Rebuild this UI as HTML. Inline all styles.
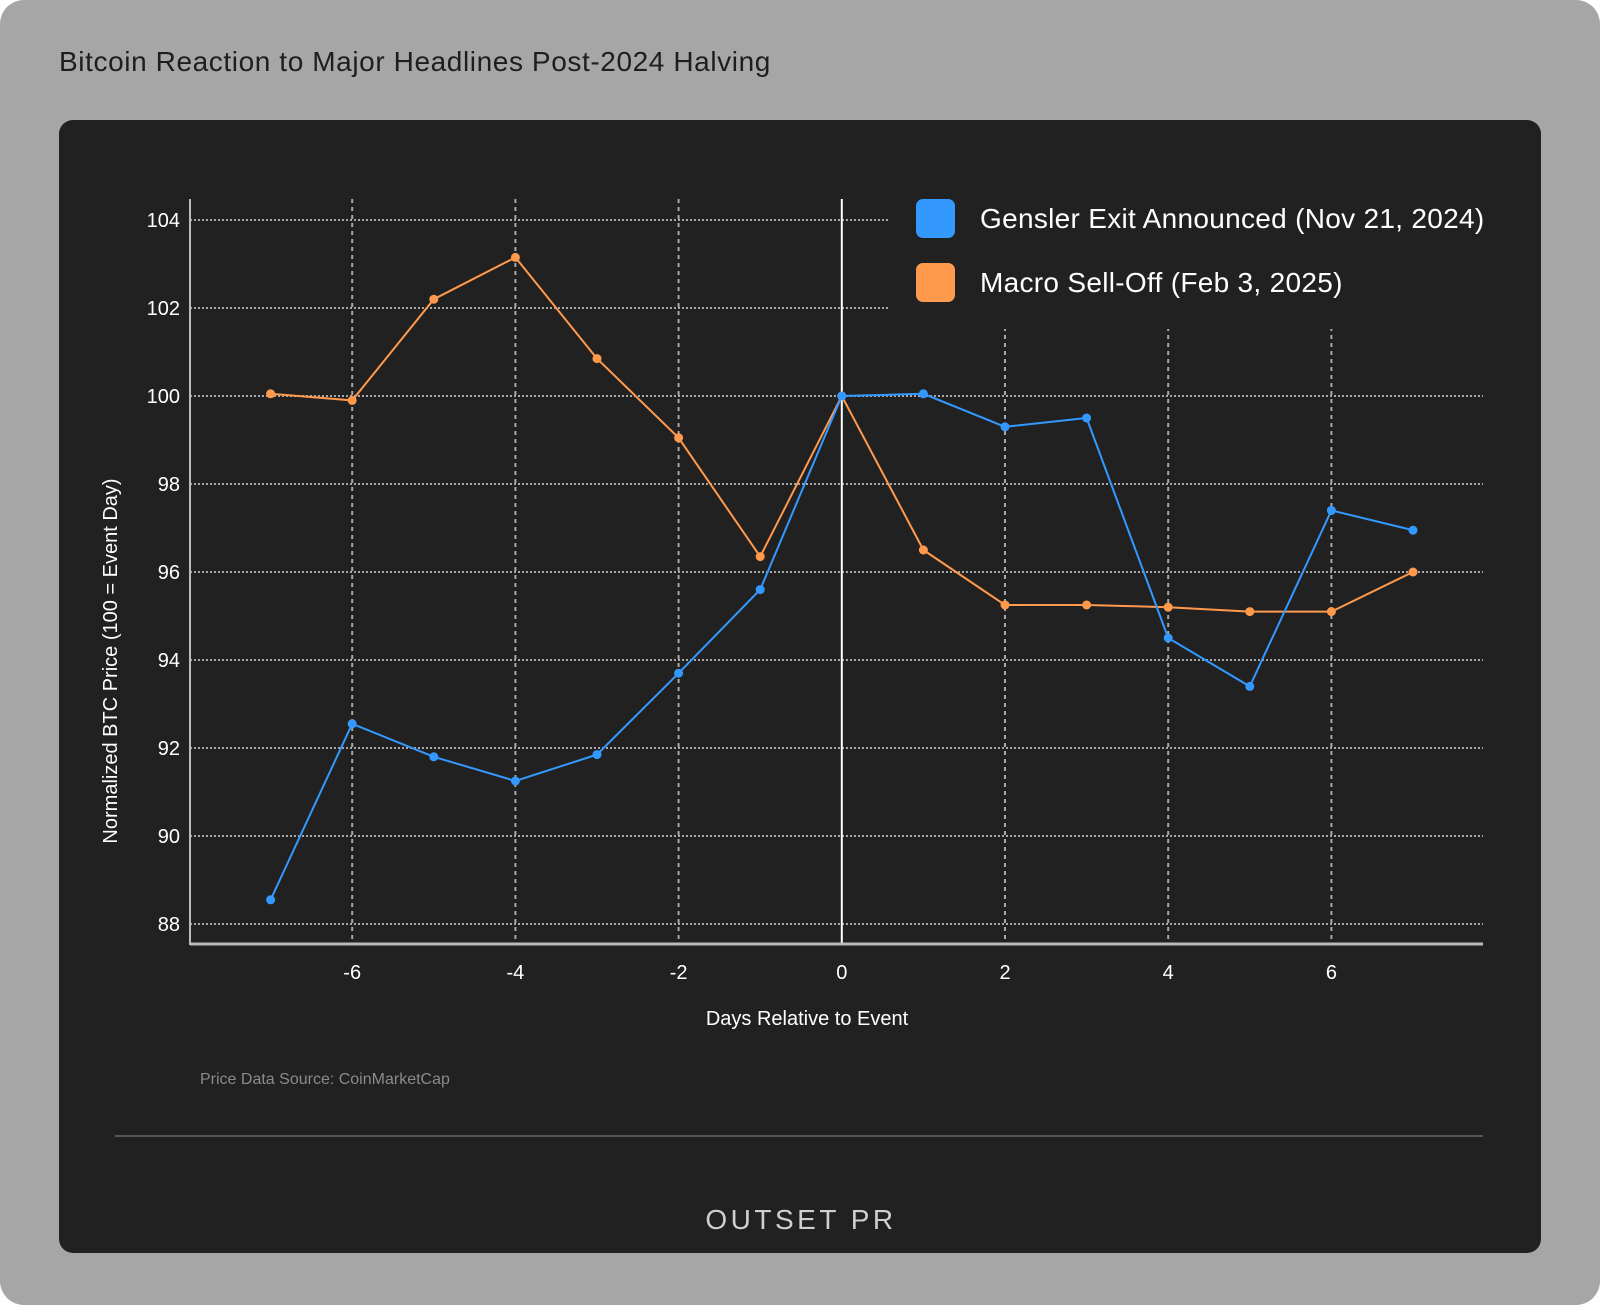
<!DOCTYPE html>
<html><head><meta charset="utf-8"><style>
body{margin:0;width:1600px;height:1305px;background:#fff;overflow:hidden;font-family:"Liberation Sans",sans-serif}
#outer{position:absolute;left:0;top:0;width:1600px;height:1305px;background:#a6a6a6;border-radius:24px}
#title{position:absolute;left:59px;top:46px;font-size:28px;color:#1e1e1e;letter-spacing:0.6px}
#card{position:absolute;left:59px;top:120px;width:1482px;height:1133px;background:#212121;border-radius:14px}
svg{position:absolute;left:0;top:0}
</style></head><body>
<div id="outer"></div>
<div id="title">Bitcoin Reaction to Major Headlines Post-2024 Halving</div>
<div id="card"></div>
<svg id="chart" width="1600" height="1305"></svg>
<script>
const days=[-7,-6,-5,-4,-3,-2,-1,0,1,2,3,4,5,6,7];
const gensler=[88.55,92.55,91.8,91.25,91.85,93.7,95.6,100,100.05,99.3,99.5,94.5,93.4,97.4,96.95];
const macro=[100.05,99.9,102.2,103.15,100.85,99.05,96.35,100,96.5,95.25,95.25,95.2,95.1,95.1,96.0];
const yTicks=[88,90,92,94,96,98,100,102,104];
const xTicks=[-6,-4,-2,0,2,4,6];
const seriesNames=["Gensler Exit Announced (Nov 21, 2024)","Macro Sell-Off (Feb 3, 2025)"];

const NS="http://www.w3.org/2000/svg";
const svg=document.getElementById('chart');
const X=d=>841.8+(d-0)*81.6;
const Y=v=>396+(100-v)*44;
const L=190,R=1483,T=199,B=944;
function el(t,a,p){const e=document.createElementNS(NS,t);for(const k in a)e.setAttribute(k,a[k]);(p||svg).appendChild(e);return e;}
yTicks.forEach(v=>{
  const g=el('line',{x1:L,x2:R,y1:Y(v),y2:Y(v),stroke:'#a8a8a8','stroke-width':2,'stroke-dasharray':'2 2'});
  
  
  const t=el('text',{x:180,y:Y(v)+7,'text-anchor':'end',fill:'#fff','font-size':20});
  t.textContent=v;
  
  
});
xTicks.forEach(d=>{
  if(d!==0){
    const g=el('line',{x1:X(d),x2:X(d),y1:T,y2:B,stroke:'#a8a8a8','stroke-width':2,'stroke-dasharray':'4 4'});
    
    
  }
  const t=el('text',{x:X(d),y:979,'text-anchor':'middle',fill:'#fff','font-size':20});
  t.textContent=d;
  
  
});
const lb=el('rect',{x:890,y:199,width:600,height:130,fill:'#212121'});


const ev=el('line',{x1:X(0),x2:X(0),y1:T,y2:B,stroke:'#fff','stroke-width':2});


const ya=el('line',{x1:L,x2:L,y1:T,y2:B+1,stroke:'#bbb','stroke-width':2});


const xa=el('line',{x1:L,x2:R,y1:B,y2:B,stroke:'#bbb','stroke-width':3});


[[macro,'#ff9a4d','macro-sell-off'],[gensler,'#3399ff','gensler-exit']].forEach(([vals,c,n])=>{
  const p=el('polyline',{points:vals.map((v,i)=>X(days[i])+','+Y(v)).join(' '),fill:'none',stroke:c,'stroke-width':2});
  
  
  vals.forEach((v,i)=>{
    const m=el('circle',{cx:X(days[i]),cy:Y(v),r:4.5,fill:c});
    
    
  });
});
[['#3399ff',199],['#ff9a4d',263]].forEach(([c,y],i)=>{
  const r=el('rect',{x:916,y:y,width:39,height:39,rx:7,fill:c});
  
  
  const t=el('text',{x:980,y:y+29,fill:'#fff','font-size':28,'letter-spacing':'0.3'});
  t.textContent=seriesNames[i];
  
  
});
const xt=el('text',{x:807,y:1025,'text-anchor':'middle',fill:'#fff','font-size':20});
xt.textContent='Days Relative to Event';


const yt=el('text',{x:0,y:0,'text-anchor':'middle',fill:'#fff','font-size':20,transform:'translate(117,661) rotate(-90)'});
yt.textContent='Normalized BTC Price (100 = Event Day)';


const src=el('text',{x:200,y:1084,fill:'#8a8a8a','font-size':16});
src.textContent='Price Data Source: CoinMarketCap';


const dv=el('line',{x1:115,x2:1483,y1:1136,y2:1136,stroke:'#555','stroke-width':2});


const lg=el('text',{x:801,y:1229,'text-anchor':'middle',fill:'#cfcfcf','font-size':28,'letter-spacing':'3.5'});
lg.textContent='OUTSET PR';


</script>
</body></html>
